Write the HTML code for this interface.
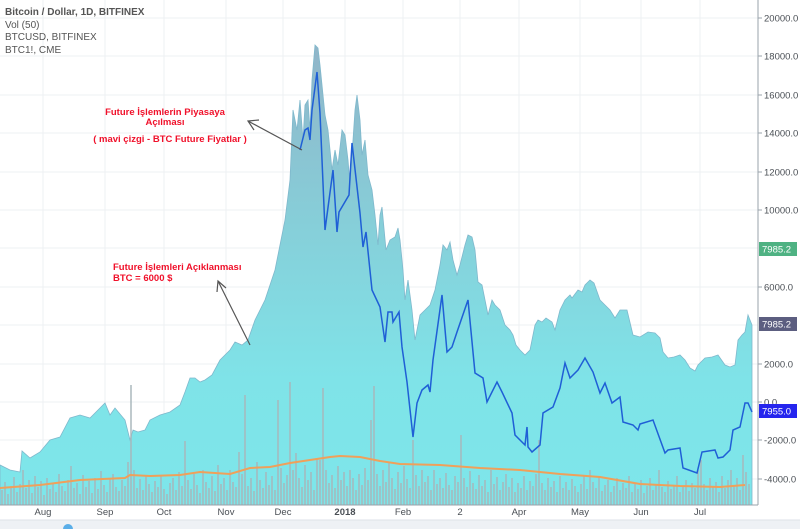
<!DOCTYPE html>
<html><head><meta charset="utf-8"><style>
html,body{margin:0;padding:0;background:#fff;}
svg{display:block;font-family:"Liberation Sans",sans-serif;}
</style></head><body>
<svg id="s" width="800" height="529" viewBox="0 0 800 529" xmlns="http://www.w3.org/2000/svg">
<defs>
<linearGradient id="g" x1="0" y1="0" x2="0" y2="505" gradientUnits="userSpaceOnUse">
<stop offset="0" stop-color="#93aec4"/>
<stop offset="0.45" stop-color="#86cfd9"/>
<stop offset="0.75" stop-color="#7fe3e8"/>
<stop offset="1" stop-color="#7de6ea"/>
</linearGradient>
</defs>
<rect x="0" y="0" width="800" height="529" fill="#fff"/>
<g stroke="#eef0f3" stroke-width="1">
<line x1="43" y1="0" x2="43" y2="505"/><line x1="105" y1="0" x2="105" y2="505"/><line x1="164" y1="0" x2="164" y2="505"/><line x1="226" y1="0" x2="226" y2="505"/><line x1="283" y1="0" x2="283" y2="505"/><line x1="345" y1="0" x2="345" y2="505"/><line x1="403" y1="0" x2="403" y2="505"/><line x1="460" y1="0" x2="460" y2="505"/><line x1="519" y1="0" x2="519" y2="505"/><line x1="580" y1="0" x2="580" y2="505"/><line x1="641" y1="0" x2="641" y2="505"/><line x1="700" y1="0" x2="700" y2="505"/>
<line x1="0" y1="18" x2="758" y2="18"/><line x1="0" y1="56" x2="758" y2="56"/><line x1="0" y1="95" x2="758" y2="95"/><line x1="0" y1="133" x2="758" y2="133"/><line x1="0" y1="172" x2="758" y2="172"/><line x1="0" y1="210" x2="758" y2="210"/><line x1="0" y1="248" x2="758" y2="248"/><line x1="0" y1="287" x2="758" y2="287"/><line x1="0" y1="325" x2="758" y2="325"/><line x1="0" y1="364" x2="758" y2="364"/><line x1="0" y1="402" x2="758" y2="402"/><line x1="0" y1="440" x2="758" y2="440"/><line x1="0" y1="479" x2="758" y2="479"/>
</g>
<polygon fill="url(#g)" stroke="#7fb8cc" stroke-width="0.8" points="0,505 0,465 10,470 20,472 22,451 30,458 40,452 50,440 60,437 70,418 80,415 90,418 100,408 105,403 110,415 115,408 125,420 130,440 133,430 138,432 145,430 150,420 160,415 170,412 180,405 185,392 190,378 195,378 200,382 205,380 212,375 220,360 230,350 235,342 242,345 248,340 255,320 265,300 275,270 285,220 290,180 293,110 297,130 300,100 303,140 305,105 308,100 310,130 312,80 315,45 318,48 320,65 325,115 328,130 332,170 335,150 338,165 342,130 345,135 348,160 350,185 352,155 355,110 357,95 360,120 362,155 365,140 368,175 372,190 375,215 378,245 380,215 382,207 386,250 390,240 395,237 398,228 400,240 403,270 405,300 408,280 412,310 415,340 420,315 425,310 430,305 435,290 440,265 443,245 447,250 450,242 453,260 457,275 460,265 465,245 468,235 472,237 475,250 478,282 482,285 485,300 488,315 492,300 495,305 500,310 505,325 510,330 513,335 516,345 520,350 525,355 530,350 535,325 538,320 542,322 546,318 552,322 555,330 560,310 565,300 570,295 572,298 578,290 582,292 585,285 590,280 594,283 600,300 605,305 610,310 615,318 620,310 627,310 633,335 640,337 648,332 655,333 660,338 663,352 668,358 674,357 680,355 685,360 690,368 695,371 698,365 705,358 712,357 718,355 725,365 730,367 735,365 738,340 742,335 745,332 748,315 750,320 752,325 752,505"/>
<path fill="none" stroke="#a7b6ba" stroke-width="1.6" opacity="0.9" d="M2 490V505M5 482V505M8 494V505M11 486V505M14 477V505M17 492V505M20 484V505M23 470V505M26 488V505M29 480V505M32 493V505M35 476V505M38 487V505M41 481V505M44 495V505M47 478V505M50 489V505M53 483V505M56 492V505M59 474V505M62 486V505M65 491V505M68 480V505M71 466V505M74 488V505M77 483V505M80 494V505M83 475V505M86 487V505M89 481V505M92 493V505M95 478V505M98 489V505M101 471V505M104 485V505M107 492V505M110 479V505M113 474V505M116 487V505M119 491V505M122 480V505M125 486V505M128 462V505M131 385V505M134 470V505M137 488V505M140 479V505M143 490V505M146 475V505M149 484V505M152 492V505M155 481V505M158 487V505M161 476V505M164 489V505M167 494V505M170 483V505M173 478V505M176 490V505M179 472V505M182 486V505M185 441V505M188 480V505M191 489V505M194 474V505M197 485V505M200 493V505M203 470V505M206 482V505M209 488V505M212 476V505M215 491V505M218 465V505M221 484V505M224 478V505M227 490V505M230 470V505M233 482V505M236 487V505M239 452V505M242 474V505M245 395V505M248 486V505M251 478V505M254 491V505M257 462V505M260 480V505M263 488V505M266 472V505M269 485V505M272 476V505M275 490V505M278 400V505M281 468V505M284 483V505M287 475V505M290 382V505M293 470V505M296 453V505M299 478V505M302 487V505M305 465V505M308 480V505M311 472V505M314 490V505M317 458V505M320 460V505M323 388V505M326 470V505M329 483V505M332 475V505M335 488V505M338 466V505M341 480V505M344 472V505M347 486V505M350 470V505M353 478V505M356 490V505M359 474V505M362 485V505M365 468V505M368 480V505M371 420V505M374 386V505M377 474V505M380 486V505M383 470V505M386 482V505M389 462V505M392 478V505M395 489V505M398 472V505M401 483V505M404 466V505M407 479V505M410 488V505M413 440V505M416 475V505M419 486V505M422 470V505M425 482V505M428 476V505M431 490V505M434 470V505M437 484V505M440 478V505M443 488V505M446 473V505M449 485V505M452 490V505M455 476V505M458 482V505M461 435V505M464 478V505M467 487V505M470 471V505M473 483V505M476 489V505M479 475V505M482 486V505M485 480V505M488 492V505M491 470V505M494 484V505M497 477V505M500 490V505M503 482V505M506 474V505M509 487V505M512 478V505M515 492V505M518 483V505M521 488V505M524 476V505M527 490V505M530 481V505M533 486V505M536 474V505M539 440V505M542 483V505M545 490V505M548 478V505M551 487V505M554 481V505M557 492V505M560 476V505M563 488V505M566 482V505M569 490V505M572 479V505M575 486V505M578 492V505M581 484V505M584 475V505M587 489V505M590 470V505M593 482V505M596 488V505M599 477V505M602 491V505M605 485V505M608 480V505M611 492V505M614 486V505M617 478V505M620 490V505M623 483V505M626 488V505M629 476V505M632 492V505M635 484V505M638 489V505M641 480V505M644 493V505M647 486V505M650 478V505M653 490V505M656 484V505M659 470V505M662 487V505M665 492V505M668 481V505M671 489V505M674 485V505M677 476V505M680 492V505M683 487V505M686 480V505M689 491V505M692 483V505M695 488V505M698 470V505M701 460V505M704 484V505M707 490V505M710 478V505M713 487V505M716 482V505M719 492V505M722 476V505M725 488V505M728 480V505M731 470V505M734 485V505M737 478V505M740 490V505M743 455V505M746 472V505M749 484V505"/>
<polyline fill="none" stroke="#f0a05a" stroke-width="2" points="0,488 40,485 80,480 125,478 130,475 150,476 180,475 200,472 230,474 250,468 270,467 290,463 310,460 330,457 340,456 360,457 380,461 400,464 440,465 480,468 520,470 560,474 600,477 640,484 680,486 720,487 745,485"/>
<polyline fill="none" stroke="#1f5fd6" stroke-width="1.5" points="300,150 305,130 308,128 310,140 312,110 317,72 320,113 325,230 333,170 337,232 339,212 349,195 352,143 360,213 363,247 366,232 372,290 380,307 385,342 388,312 392,312 393,322 399,312 402,347 407,382 413,437 417,403 422,390 428,385 430,392 433,360 442,295 447,352 452,347 457,332 468,300 475,373 483,378 487,402 497,382 502,392 512,413 515,435 525,445 527,427 528,447 532,452 540,445 543,413 553,407 560,388 565,363 570,378 578,370 585,358 593,372 600,393 605,383 612,403 620,397 623,422 633,425 638,430 640,424 653,420 665,453 668,450 680,448 683,468 697,473 702,452 715,450 718,458 723,457 730,450 733,430 740,427 745,403 748,403 752,412"/>
<rect x="0" y="505" width="758" height="15" fill="#fff"/>
<line x1="0" y1="505" x2="758" y2="505" stroke="#9aa3ab"/>
<line x1="758" y1="0" x2="758" y2="505" stroke="#9aa3ab"/>
<rect x="0" y="520" width="800" height="9" fill="#eef1f5"/>
<line x1="0" y1="520" x2="800" y2="520" stroke="#dde2e8"/>
<circle cx="68" cy="529" r="5" fill="#5aaee8"/>
<g stroke="#9aa3ab"><line x1="758" y1="18" x2="762" y2="18"/><line x1="758" y1="56" x2="762" y2="56"/><line x1="758" y1="95" x2="762" y2="95"/><line x1="758" y1="133" x2="762" y2="133"/><line x1="758" y1="172" x2="762" y2="172"/><line x1="758" y1="210" x2="762" y2="210"/><line x1="758" y1="287" x2="762" y2="287"/><line x1="758" y1="364" x2="762" y2="364"/><line x1="758" y1="402" x2="762" y2="402"/><line x1="758" y1="440" x2="762" y2="440"/><line x1="758" y1="479" x2="762" y2="479"/></g>
<g font-size="9.5" fill="#4a4f55">
<text x="764" y="21.5">20000.0</text><text x="764" y="59.5">18000.0</text><text x="764" y="98.5">16000.0</text><text x="764" y="136.5">14000.0</text><text x="764" y="175.5">12000.0</text><text x="764" y="213.5">10000.0</text><text x="764" y="290.5">6000.0</text><text x="764" y="367.5">2000.0</text><text x="764" y="405.5">0.0</text><text x="764" y="443.5">-2000.0</text><text x="764" y="482.5">-4000.0</text>
</g>
<g font-size="9.5" fill="#4a4f55" text-anchor="middle">
<text x="43" y="515">Aug</text><text x="105" y="515">Sep</text><text x="164" y="515">Oct</text><text x="226" y="515">Nov</text><text x="283" y="515">Dec</text><text x="345" y="515" font-weight="bold">2018</text><text x="403" y="515">Feb</text><text x="460" y="515">2</text><text x="519" y="515">Apr</text><text x="580" y="515">May</text><text x="641" y="515">Jun</text><text x="700" y="515">Jul</text>
</g>
<rect x="759" y="242" width="38" height="14" fill="#4fb283"/><text x="762" y="252.5" font-size="9.5" fill="#fff">7985.2</text>
<rect x="759" y="317" width="38" height="14" fill="#5c5e80"/><text x="762" y="327.5" font-size="9.5" fill="#fff">7985.2</text>
<rect x="759" y="404" width="38" height="14" fill="#2525ee"/><text x="762" y="414.5" font-size="9.5" fill="#fff">7955.0</text>
<g font-size="10" fill="#555">
<text x="5" y="15" font-weight="bold">Bitcoin / Dollar, 1D, BITFINEX</text>
<text x="5" y="28">Vol (50)</text>
<text x="5" y="40">BTCUSD, BITFINEX</text>
<text x="5" y="53">BTC1!, CME</text>
</g>
<g font-size="9.5" fill="#f0102a" font-weight="bold">
<text x="165" y="115" text-anchor="middle">Future İşlemlerin Piyasaya</text>
<text x="165" y="125" text-anchor="middle">Açılması</text>
<text x="170" y="142" text-anchor="middle">( mavi çizgi - BTC Future Fiyatlar )</text>
<text x="113" y="270">Future İşlemleri Açıklanması</text>
<text x="113" y="281">BTC = 6000 $</text>
</g>
<g stroke="#555" stroke-width="1.2" fill="none">
<line x1="302" y1="150" x2="248" y2="121"/><polyline points="259,120 248,121 254,130"/>
<line x1="250" y1="345" x2="218" y2="281"/><polyline points="217,292 218,281 226,288"/>
</g>
</svg>
</body></html>
